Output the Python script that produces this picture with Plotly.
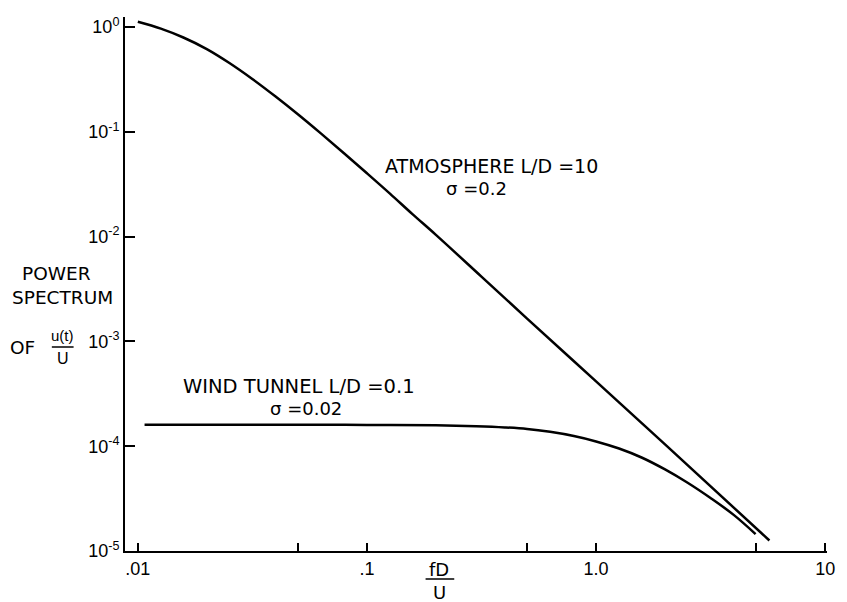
import plotly.graph_objects as go

# ---- data ----
atm_x = [0.010, 0.0126, 0.0158, 0.020, 0.0251, 0.0316, 0.0398, 0.0501, 0.0631, 0.0794,
         0.1, 0.126, 0.158, 0.2, 0.316, 0.5, 1.0, 2.0, 5.71]
atm_y = [1.12, 0.964, 0.793, 0.615, 0.453, 0.319, 0.218, 0.146, 0.0959, 0.0624,
         0.0402, 0.0257, 0.01637, 0.01038, 0.00415, 0.00165, 0.000415, 0.0001042, 1.26e-5]

wt_x = [0.0107, 0.05, 0.1, 0.2, 0.3, 0.4, 0.5, 0.63, 0.8, 1.0, 1.26, 1.58, 2.0, 2.5, 3.16, 4.0, 4.97]
wt_y = [1.6e-4, 1.6e-4, 1.595e-4, 1.58e-4, 1.55e-4, 1.51e-4, 1.46e-4, 1.37e-4, 1.25e-4,
        1.11e-4, 9.5e-5, 7.8e-5, 6.0e-5, 4.5e-5, 3.2e-5, 2.2e-5, 1.45e-5]

x_tickvals = [0.01, 0.05, 0.1, 0.5, 1, 5, 10]
x_ticktext = [".01", "", ".1", "", "1.0", "", "10"]
y_tickvals = [1e-5, 1e-4, 1e-3, 1e-2, 1e-1, 1]
y_ticktext = ["10<sup>-5</sup>", "10<sup>-4</sup>", "10<sup>-3</sup>",
              "10<sup>-2</sup>", "10<sup>-1</sup>", "10<sup>0</sup>"]

FONT = "DejaVu Sans, sans-serif"
TICKFONT = "Liberation Sans, Arial, sans-serif"
W, H = 847, 602
L, R, T, B = 125, 12, 17, 51
PW, PH = W - L - R, H - T - B


def px(x):
    return (x - L) / PW


def py(y):
    return (H - B - y) / PH


fig = go.Figure()
for xs, ys in ((atm_x, atm_y), (wt_x, wt_y)):
    fig.add_trace(go.Scatter(x=xs, y=ys, mode="lines",
                             line=dict(color="black", width=2.5, shape="spline", smoothing=1.0),
                             showlegend=False, hoverinfo="skip"))


def ann(text, x, y, size=19, family=FONT):
    fig.add_annotation(text=text, x=px(x), y=py(y), xref="paper", yref="paper",
                       xanchor="center", yanchor="middle", showarrow=False,
                       font=dict(family=family, size=size, color="black"))


ann("ATMOSPHERE L/D =10", 496, 166)
ann("σ =0.2", 480, 188, 18)
ann("WIND TUNNEL L/D =0.1", 301, 386, 19.5)
ann("σ =0.02", 308, 408, 18)
ann("POWER", 56, 273, 18.5)
ann("SPECTRUM", 62, 297, 18.5)
ann("OF", 21, 347, 18.5)
ann("u(t)", 62, 335, 15, TICKFONT)
ann("U", 62, 358, 16, TICKFONT)
ann("fD", 443, 569, 18)
ann("U", 443, 592, 18)

fig.add_shape(type="line", xref="paper", yref="paper",
              x0=px(51), x1=px(73), y0=py(347), y1=py(347),
              line=dict(color="black", width=1.5))
fig.add_shape(type="line", xref="paper", yref="paper",
              x0=px(429), x1=px(458), y0=py(579), y1=py(579),
              line=dict(color="black", width=1.5))

fig.update_xaxes(type="log", range=[-2.056, 1.008], tickvals=x_tickvals, ticktext=x_ticktext,
                 ticks="inside", ticklen=8, tickwidth=1.5, tickcolor="black",
                 showline=True, linewidth=2, linecolor="black", showgrid=False, zeroline=False,
                 tickfont=dict(family=TICKFONT, size=18, color="black"))
fig.update_yaxes(type="log", range=[-5, 0.095], tickvals=y_tickvals, ticktext=y_ticktext,
                 ticks="inside", ticklen=10, tickwidth=2, tickcolor="black",
                 showline=True, linewidth=2, linecolor="black", showgrid=False, zeroline=False,
                 tickfont=dict(family=TICKFONT, size=18, color="black"))

fig.update_layout(width=W, height=H, autosize=False,
                  margin=dict(l=L, r=R, t=T, b=B),
                  paper_bgcolor="white", plot_bgcolor="white",
                  font=dict(family=FONT, color="black"))

fig.write_html("out.html")
